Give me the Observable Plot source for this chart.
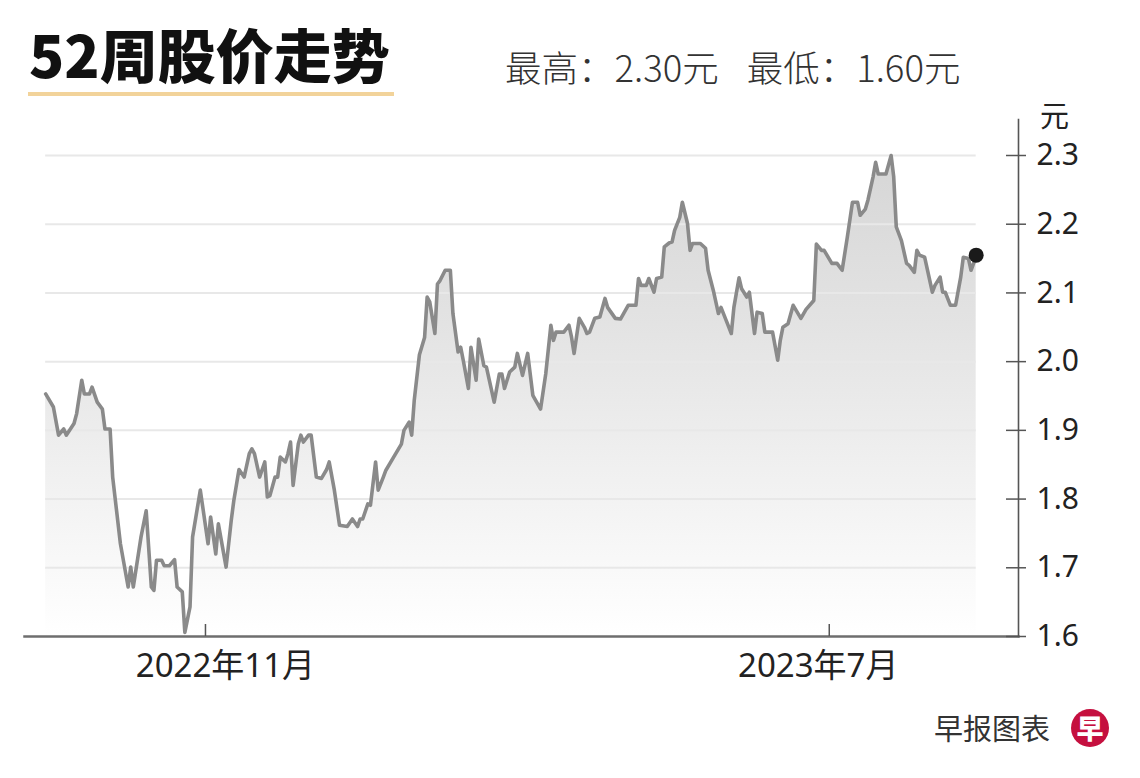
<!DOCTYPE html>
<html>
<head>
<meta charset="utf-8">
<script src="https://cdn.jsdelivr.net/npm/d3@7"></script>
<script src="https://cdn.jsdelivr.net/npm/@observablehq/plot@0.6"></script>
<style>
  html, body { margin: 0; padding: 0; background: #fff; }
  body { width: 1140px; height: 778px; position: relative; overflow: hidden;
         font-family: "Noto Sans", "Noto Sans CJK SC", sans-serif; color: #222; }
  #title { position: absolute; left: 29px; top: 24px; font-size: 58px; line-height: 1;
           font-weight: 900; color: #111; font-family: "Noto Sans CJK SC", sans-serif; letter-spacing: 0px; white-space: nowrap; }
  #rule { position: absolute; left: 28px; top: 92px; width: 366px; height: 4px; background: #f2d39a; }
  #sub { position: absolute; left: 505px; top: 49px; font-size: 36.5px; line-height: 1; color: #333;
         font-family: "Noto Sans CJK SC", sans-serif; font-weight: 300; white-space: nowrap; }
  #sub span + span { margin-left: 28px; }
  #unit { position: absolute; left: 1040px; top: 100px; font-size: 29px; line-height: 1; color: #222;
          font-family: "Noto Sans CJK SC", sans-serif; }
  #chart { position: absolute; left: 0; top: 100px; }
  #foot { position: absolute; left: 934px; top: 713px; font-size: 29px; line-height: 1; color: #333;
          font-family: "Noto Sans CJK SC", sans-serif; white-space: nowrap; }
  #logo { position: absolute; left: 1071px; top: 709px; width: 38px; height: 38px; border-radius: 50%;
          background: #c5103f; color: #fff; font-size: 27px; font-weight: 900; line-height: 38px; text-align: center;
          font-family: "Noto Sans CJK SC", sans-serif; }
</style>
</head>
<body>
<div id="title">52周股价走势</div>
<div id="rule"></div>
<div id="sub"><span>最高：2.30元</span><span>最低：1.60元</span></div>
<div id="unit">元</div>
<div id="chart"></div>
<div id="foot">早报图表</div>
<div id="logo">早</div>
<script>
// ---- data ----
const dates = [
"2022-08-31","2022-09-03","2022-09-05","2022-09-07","2022-09-08","2022-09-11","2022-09-12","2022-09-14","2022-09-15","2022-09-17",
"2022-09-18","2022-09-20","2022-09-22","2022-09-23","2022-09-25","2022-09-26","2022-09-29","2022-10-02","2022-10-03","2022-10-04",
"2022-10-07","2022-10-09","2022-10-11","2022-10-12","2022-10-13","2022-10-15","2022-10-16","2022-10-18","2022-10-20","2022-10-21",
"2022-10-23","2022-10-24","2022-10-26","2022-10-27","2022-10-30","2022-11-02","2022-11-03","2022-11-05","2022-11-06","2022-11-09",
"2022-11-11","2022-11-12","2022-11-14","2022-11-16","2022-11-18","2022-11-19","2022-11-20","2022-11-22","2022-11-24","2022-11-25",
"2022-11-26","2022-11-28","2022-11-29","2022-11-30","2022-12-02","2022-12-03","2022-12-04","2022-12-05","2022-12-07","2022-12-08",
"2022-12-09","2022-12-11","2022-12-12","2022-12-14","2022-12-16","2022-12-18","2022-12-19","2022-12-21","2022-12-23","2022-12-26",
"2022-12-28","2022-12-30","2022-12-31","2023-01-01","2023-01-03","2023-01-04","2023-01-06","2023-01-07","2023-01-09","2023-01-10",
"2023-01-13","2023-01-16","2023-01-17","2023-01-19","2023-01-20","2023-01-21","2023-01-23","2023-01-25","2023-01-26","2023-01-27",
"2023-01-29","2023-01-30","2023-01-31","2023-02-02","2023-02-04","2023-02-05","2023-02-07","2023-02-08","2023-02-09","2023-02-11",
"2023-02-12","2023-02-14","2023-02-15","2023-02-17","2023-02-18","2023-02-21","2023-02-23","2023-02-24","2023-02-25","2023-02-27",
"2023-03-01","2023-03-02","2023-03-04","2023-03-06","2023-03-08","2023-03-11","2023-03-13","2023-03-15","2023-03-16","2023-03-17",
"2023-03-20","2023-03-22","2023-03-23","2023-03-24","2023-03-26","2023-03-28","2023-03-29","2023-03-30","2023-04-01","2023-04-03",
"2023-04-05","2023-04-06","2023-04-09","2023-04-11","2023-04-14","2023-04-17","2023-04-18","2023-04-19","2023-04-21","2023-04-22",
"2023-04-24","2023-04-25","2023-04-27","2023-04-28","2023-04-30","2023-05-01","2023-05-02","2023-05-04","2023-05-05","2023-05-07",
"2023-05-08","2023-05-09","2023-05-12","2023-05-14","2023-05-15","2023-05-17","2023-05-19","2023-05-20","2023-05-22","2023-05-24",
"2023-05-25","2023-05-27","2023-05-28","2023-05-30","2023-05-31","2023-06-02","2023-06-03","2023-06-05","2023-06-06","2023-06-09",
"2023-06-11","2023-06-12","2023-06-13","2023-06-15","2023-06-17","2023-06-20","2023-06-22","2023-06-25","2023-06-26","2023-06-28",
"2023-06-29","2023-07-02","2023-07-04","2023-07-06","2023-07-08","2023-07-10","2023-07-12","2023-07-13","2023-07-15","2023-07-16",
"2023-07-18","2023-07-19","2023-07-20","2023-07-23","2023-07-25","2023-07-26","2023-07-27","2023-07-29","2023-07-31","2023-08-01",
"2023-08-03","2023-08-04","2023-08-05","2023-08-07","2023-08-10","2023-08-11","2023-08-13","2023-08-14","2023-08-15","2023-08-17",
"2023-08-19","2023-08-21","2023-08-22","2023-08-24","2023-08-25","2023-08-26","2023-08-27"
];
const prices = [
1.953,1.934,1.893,1.902,1.893,1.910,1.924,1.973,1.953,1.953,
1.963,1.941,1.931,1.902,1.902,1.832,1.735,1.672,1.701,1.672,
1.745,1.783,1.672,1.667,1.711,1.711,1.703,1.703,1.712,1.672,
1.665,1.606,1.643,1.745,1.813,1.735,1.774,1.720,1.764,1.701,
1.769,1.798,1.843,1.832,1.866,1.873,1.866,1.832,1.854,1.803,
1.805,1.832,1.832,1.861,1.854,1.866,1.883,1.820,1.880,1.893,
1.883,1.893,1.893,1.832,1.830,1.843,1.854,1.813,1.762,1.760,
1.771,1.760,1.771,1.771,1.793,1.791,1.854,1.813,1.832,1.842,
1.861,1.880,1.900,1.912,1.893,1.944,2.010,2.035,2.094,2.087,
2.041,2.113,2.118,2.133,2.133,2.070,2.014,2.021,2.002,1.961,
2.021,1.973,2.033,1.994,1.992,1.941,1.982,1.982,1.961,1.985,
1.992,2.012,1.980,2.012,1.951,1.931,1.982,2.053,2.031,2.043,
2.043,2.053,2.036,2.012,2.063,2.050,2.041,2.043,2.063,2.065,
2.092,2.079,2.063,2.062,2.082,2.082,2.121,2.111,2.111,2.121,
2.101,2.121,2.123,2.167,2.173,2.174,2.191,2.210,2.232,2.201,
2.162,2.172,2.172,2.165,2.133,2.104,2.070,2.079,2.060,2.041,
2.079,2.122,2.106,2.094,2.101,2.041,2.072,2.070,2.043,2.043,
2.002,2.031,2.050,2.055,2.082,2.063,2.076,2.089,2.171,2.162,
2.162,2.143,2.143,2.133,2.181,2.232,2.232,2.213,2.222,2.235,
2.269,2.290,2.273,2.273,2.300,2.269,2.196,2.176,2.143,2.140,
2.130,2.162,2.155,2.152,2.101,2.111,2.123,2.101,2.101,2.082,
2.082,2.123,2.152,2.150,2.133,2.143,2.155
];
const yTicks = [1.6, 1.7, 1.8, 1.9, 2.0, 2.1, 2.2, 2.3];
const xTickDates = ["2022-11-01", "2023-07-01"];
const xTickLabels = ["2022年11月", "2023年7月"];

// ---- build ----
const data = dates.map((d, i) => ({date: new Date(d), price: prices[i]}));
const xTicks = xTickDates.map(d => new Date(d));
const first = data[0].date, last = data[data.length - 1].date;
const yMin = yTicks[0];
const labelOf = d => xTickLabels[xTicks.findIndex(t => +t === +d)];

const defs = () => {
  const g = d3.create("svg:defs");
  const lg = g.append("linearGradient").attr("id", "fadeFill").attr("x1", 0).attr("x2", 0).attr("y1", 0).attr("y2", 1);
  lg.append("stop").attr("offset", "0%").attr("stop-color", "#d6d6d6");
  lg.append("stop").attr("offset", "35%").attr("stop-color", "#e3e3e3");
  lg.append("stop").attr("offset", "70%").attr("stop-color", "#f2f2f2");
  lg.append("stop").attr("offset", "100%").attr("stop-color", "#ffffff");
  return g.node();
};

const chart = Plot.plot({
  width: 1140,
  height: 600,
  marginTop: 55,
  marginBottom: 64,
  marginLeft: 24,
  marginRight: 122,
  style: {fontFamily: '"Noto Sans", "Noto Sans CJK SC", sans-serif', fontSize: "30px", color: "#222", background: "transparent"},
  x: {type: "utc", domain: [new Date("2022-08-22T19:00Z"), new Date("2023-09-12T10:00Z")], label: null},
  y: {domain: [yTicks[0], yTicks[yTicks.length - 1]], label: null},
  marks: [
    defs,
    Plot.areaY(data, {x: "date", y1: yMin, y2: "price", fill: "url(#fadeFill)"}),
    Plot.ruleY(yTicks.slice(1), {x1: first, x2: last, stroke: "#e8e8e8", strokeWidth: 2}),
    Plot.lineY(data, {x: "date", y: "price", stroke: "#8a8a8a", strokeWidth: 3.6, strokeLinejoin: "round"}),
    Plot.dot(data.slice(-1), {x: "date", y: "price", r: 7.5, fill: "#1a1a1a"}),
    Plot.frame({anchor: "bottom", stroke: "#6e6e6e", strokeWidth: 2.5}),
    Plot.frame({anchor: "right", stroke: "#555", strokeWidth: 1.6, insetTop: -36}),
    Plot.tickX(xTicks, {x: d => d, stroke: "#555", strokeWidth: 1.5, insetTop: 469}),
    Plot.tickY(yTicks, {y: d => d, stroke: "#555", strokeWidth: 1.5, insetLeft: 982, insetRight: -8}),
    Plot.axisX(xTicks.slice(0, 1), {anchor: "bottom", tickSize: 0, tickPadding: 17, fontSize: 33, dx: 20, tickFormat: labelOf}),
    Plot.axisX(xTicks.slice(1), {anchor: "bottom", tickSize: 0, tickPadding: 17, fontSize: 33, dx: -11, tickFormat: labelOf}),
    Plot.axisY(yTicks, {anchor: "right", tickSize: 0, tickPadding: 18, fontSize: 30, tickFormat: d => d.toFixed(1)})
  ]
});
document.getElementById("chart").appendChild(chart);
</script>
</body>
</html>
